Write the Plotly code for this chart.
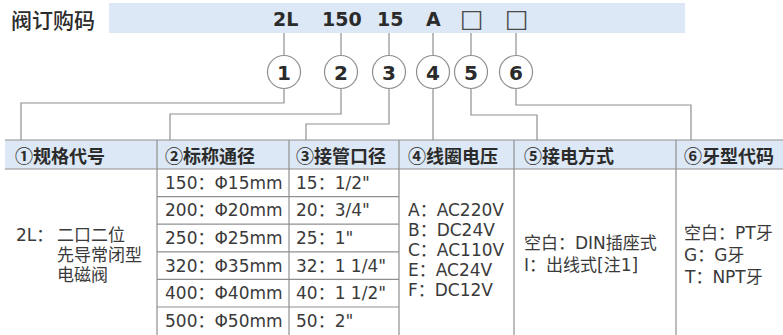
import plotly.graph_objects as go

# ---------------- data ----------------
title_text = "阀订购码"
code_parts = ["2L", "150", "15", "A", "□", "□"]
circle_labels = ["1", "2", "3", "4", "5", "6"]
headers = ["①规格代号", "②标称通径", "③接管口径", "④线圈电压", "⑤接电方式", "⑥牙型代码"]
series_code = "2L："
series_desc = ["二口二位", "先导常闭型", "电磁阀"]
nominal_sizes = ["150：Φ15mm", "200：Φ20mm", "250：Φ25mm", "320：Φ35mm", "400：Φ40mm", "500：Φ50mm"]
port_sizes = ["15：1/2\"", "20：3/4\"", "25：1\"", "32：1 1/4\"", "40：1 1/2\"", "50：2\""]
coil_voltages = ["A：AC220V", "B：DC24V", "C：AC110V", "E：AC24V", "F：DC12V"]
wiring_types = ["空白：DIN插座式", "I：出线式[注1]"]
thread_types = ["空白：PT牙", "G：G牙", "T：NPT牙"]

# ---------------- layout constants ----------------
W, H = 783, 335
LINE = "#8f8f8f"
BLUE = "#dce8f5"
TXT = "#2b2b2b"
BODY_TXT = "#3a3a3a"
CJK = "Noto Sans CJK SC"
BODY = "DejaVu Sans, Noto Sans CJK SC"

code_x = [285, 342, 390, 433, 472, 517]
stem_x = [284, 341, 389, 433, 471, 516]
band_y0, band_y1 = 3, 33
circ_y, circ_r = 72, 16.5
hdr_top, hdr_bot = 140, 169
row_h = 27.6
col_lines = [157, 289, 399, 514, 676]
col_text_x = [13, 163, 294, 406, 522, 682]
# elbow of each connector: (y of horizontal run, x where it drops to the header)
elbows = [(103, 21), (114, 170), (124, 306), (None, 433), (115, 537), (105, 691)]

fig = go.Figure()
shapes = []
ann = []

def line(pts, color=LINE, w=1.2):
    path = "M " + " L ".join(f"{x},{y}" for x, y in pts)
    shapes.append(dict(type="path", path=path, line=dict(color=color, width=w), layer="above"))

# top band
shapes.append(dict(type="rect", x0=109, x1=685, y0=band_y0, y1=band_y1,
                   fillcolor=BLUE, line=dict(width=0), layer="below"))
ann.append(dict(x=9, y=19, text=title_text, xanchor="left", yanchor="middle", showarrow=False,
                font=dict(family=CJK, size=21, color=TXT, weight=500)))
for i, part in enumerate(code_parts):
    if part == "□":
        ann.append(dict(x=code_x[i], y=18, text=part, showarrow=False, xanchor="center", yanchor="middle",
                        font=dict(family="DejaVu Sans", size=25, color="#4a4a4a")))
    else:
        ann.append(dict(x=code_x[i], y=19, text=f"<b>{part}</b>", showarrow=False, xanchor="center",
                        yanchor="middle", font=dict(family="DejaVu Sans", size=19, color=TXT)))

# circles and connectors
for i, lab in enumerate(circle_labels):
    cx = stem_x[i]
    shapes.append(dict(type="circle", x0=cx - circ_r, x1=cx + circ_r, y0=circ_y - circ_r, y1=circ_y + circ_r,
                       line=dict(color=LINE, width=1.2), fillcolor="white"))
    ann.append(dict(x=cx, y=circ_y + 1, text=f"<b>{lab}</b>", showarrow=False, xanchor="center",
                    yanchor="middle", font=dict(family="DejaVu Sans", size=20, color=TXT)))
    line([(cx, band_y1), (cx, circ_y - circ_r)])
    ey, ex = elbows[i]
    if ey is None:
        line([(cx, circ_y + circ_r), (cx, hdr_top)])
    else:
        line([(cx, circ_y + circ_r), (cx, ey), (ex, ey), (ex, hdr_top)])

# header band
shapes.append(dict(type="rect", x0=5, x1=W, y0=hdr_top, y1=hdr_bot, fillcolor=BLUE,
                   line=dict(width=0), layer="below"))
line([(5, hdr_top), (W, hdr_top)])
line([(5, hdr_bot), (W, hdr_bot)])
for x in col_lines:
    line([(x, hdr_top), (x, H)])
for i, h in enumerate(headers):
    ann.append(dict(x=col_text_x[i], y=(hdr_top + hdr_bot) / 2, text=f"<b>{h}</b>", showarrow=False,
                    xanchor="left", yanchor="middle", font=dict(family=CJK, size=18, color=TXT)))

# rows of columns 2 & 3
for r in range(1, len(nominal_sizes)):
    yy = hdr_bot + r * row_h
    line([(col_lines[0], yy), (col_lines[2], yy)])
for r, (a, b) in enumerate(zip(nominal_sizes, port_sizes)):
    yc = hdr_bot + (r + 0.5) * row_h
    ann.append(dict(x=col_text_x[1], y=yc, text=a, showarrow=False, xanchor="left", yanchor="middle",
                    font=dict(family=BODY, size=17, color=BODY_TXT)))
    ann.append(dict(x=col_text_x[2], y=yc, text=b, showarrow=False, xanchor="left", yanchor="middle",
                    font=dict(family=BODY, size=17, color=BODY_TXT)))

# column 1
ann.append(dict(x=14, y=235, text=series_code, showarrow=False, xanchor="left", yanchor="middle",
                font=dict(family=BODY, size=17, color=BODY_TXT)))
for k, s in enumerate(series_desc):
    ann.append(dict(x=55, y=235 + 20 * k, text=s, showarrow=False, xanchor="left", yanchor="middle",
                    font=dict(family=BODY, size=17, color=BODY_TXT)))

# column 4
for k, s in enumerate(coil_voltages):
    ann.append(dict(x=col_text_x[3], y=210 + 20 * k, text=s, showarrow=False, xanchor="left",
                    yanchor="middle", font=dict(family=BODY, size=17, color=BODY_TXT)))
# column 5
for k, s in enumerate(wiring_types):
    ann.append(dict(x=col_text_x[4], y=243 + 22 * k, text=s, showarrow=False, xanchor="left",
                    yanchor="middle", font=dict(family=BODY, size=17, color=BODY_TXT)))
# column 6
for k, s in enumerate(thread_types):
    ann.append(dict(x=col_text_x[5], y=233 + 22 * k, text=s, showarrow=False, xanchor="left",
                    yanchor="middle", font=dict(family=BODY, size=17, color=BODY_TXT)))

fig.update_layout(
    width=W, height=H, margin=dict(l=0, r=0, t=0, b=0),
    paper_bgcolor="white", plot_bgcolor="white",
    xaxis=dict(range=[0, W], visible=False, fixedrange=True),
    yaxis=dict(range=[H, 0], visible=False, fixedrange=True),
    shapes=shapes, annotations=ann, showlegend=False,
)
fig.write_html("out.html", config={"displayModeBar": False},
               post_script="document.body.style.margin='0';document.body.style.overflow='hidden';")
